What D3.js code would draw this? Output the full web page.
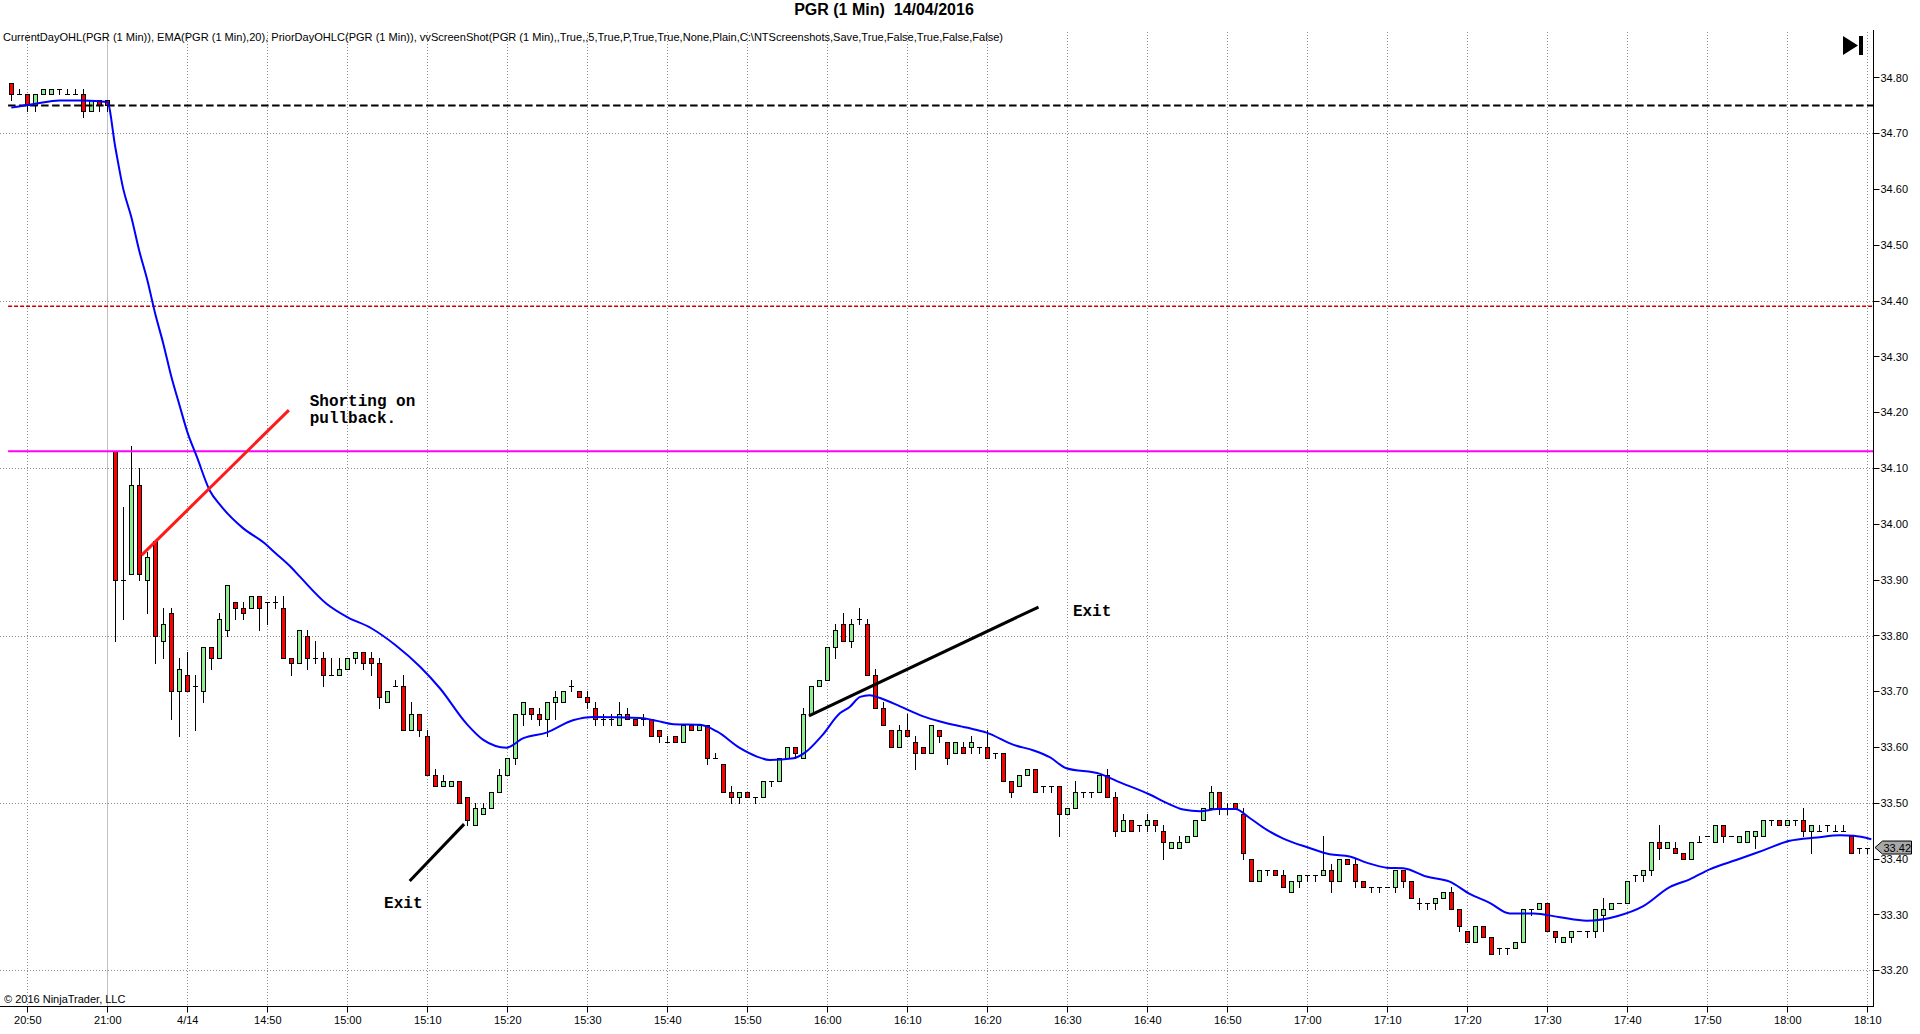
<!DOCTYPE html>
<html lang="en">
<head>
<meta charset="UTF-8">
<title>PGR (1 Min) 14/04/2016</title>
<script src="https://d3js.org/d3.v7.min.js"></script>
<style>
    body { margin: 0; background: #fff; }
    svg { display: block; font-family: "Liberation Sans", Arial, sans-serif; }
    .grid { stroke: #8c8c8c; stroke-width: 1; stroke-dasharray: 1,2; fill: none; }
    .lbl { font-size: 11px; fill: #000; }
    .note { font-family: "Liberation Mono", "Courier New", monospace; font-size: 16px; font-weight: bold; fill: #000; }
</style>
</head>
<body>
<svg id="chart" width="1920" height="1034"></svg>
<script>
// bar slots: 0 = 21:00 of the prior day, 1 = 14:31 ... 220 = 18:10
var firstSlot = -12;

var opens = [
    34.79,34.77,34.77,34.75,34.77,34.77,34.78,34.77,34.77,34.77,
    34.74,34.76,34.76,34.13,33.90,33.91,34.07,33.90,33.97,33.79,
    33.84,33.70,33.73,33.71,33.70,33.78,33.76,33.81,33.86,33.85,
    33.85,33.87,33.86,33.86,33.85,33.76,33.75,33.80,33.76,33.76,
    33.73,33.73,33.74,33.76,33.77,33.76,33.75,33.68,33.71,33.71,
    33.63,33.66,33.62,33.55,33.53,33.53,33.54,33.51,33.46,33.48,
    33.49,33.52,33.55,33.58,33.66,33.67,33.66,33.65,33.68,33.68,
    33.71,33.70,33.69,33.67,33.65,33.65,33.64,33.66,33.65,33.65,
    33.65,33.63,33.61,33.62,33.61,33.64,33.63,33.64,33.58,33.57,
    33.52,33.51,33.52,33.51,33.51,33.54,33.54,33.58,33.60,33.58,
    33.66,33.71,33.72,33.78,33.82,33.79,33.83,33.82,33.73,33.67,
    33.63,33.60,33.63,33.61,33.60,33.59,33.63,33.61,33.59,33.60,
    33.60,33.60,33.60,33.59,33.59,33.54,33.53,33.55,33.56,33.53,
    33.53,33.53,33.48,33.49,33.52,33.52,33.52,33.55,33.51,33.45,
    33.47,33.46,33.46,33.47,33.45,33.42,33.42,33.43,33.44,33.47,
    33.49,33.52,33.49,33.50,33.48,33.40,33.36,33.38,33.38,33.37,
    33.34,33.36,33.37,33.37,33.37,33.38,33.36,33.40,33.39,33.36,
    33.35,33.35,33.35,33.35,33.38,33.36,33.32,33.32,33.32,33.33,
    33.34,33.31,33.27,33.25,33.28,33.26,33.24,33.24,33.24,33.25,
    33.31,33.31,33.32,33.27,33.25,33.26,33.27,33.27,33.27,33.30,
    33.31,33.32,33.32,33.37,33.37,33.38,33.43,33.42,33.42,33.41,
    33.40,33.43,33.44,33.43,33.46,33.44,33.43,33.43,33.44,33.44,
    33.47,33.47,33.46,33.47,33.47,33.45,33.45,33.46,33.45,33.45,
    33.44,33.42,33.42
];
var highs = [
    34.79,34.78,34.77,34.77,34.78,34.78,34.78,34.78,34.78,34.78,
    34.76,34.76,34.76,34.13,34.03,34.14,34.10,33.95,33.97,33.85,
    33.85,33.76,33.77,33.73,33.78,33.78,33.84,33.89,33.86,33.86,
    33.87,33.87,33.86,33.87,33.87,33.76,33.81,33.81,33.79,33.77,
    33.76,33.76,33.76,33.77,33.77,33.77,33.76,33.70,33.72,33.73,
    33.68,33.66,33.63,33.56,33.55,33.54,33.54,33.51,33.50,33.50,
    33.52,33.56,33.58,33.66,33.68,33.67,33.67,33.68,33.70,33.70,
    33.72,33.70,33.70,33.68,33.66,33.66,33.68,33.67,33.65,33.66,
    33.65,33.63,33.62,33.62,33.64,33.64,33.64,33.64,33.59,33.57,
    33.53,33.52,33.52,33.51,33.54,33.54,33.58,33.60,33.60,33.67,
    33.71,33.72,33.78,33.82,33.84,33.83,33.85,33.83,33.74,33.68,
    33.63,33.64,33.66,33.62,33.60,33.64,33.63,33.61,33.61,33.61,
    33.62,33.60,33.63,33.59,33.59,33.54,33.55,33.56,33.56,33.53,
    33.53,33.53,33.49,33.54,33.52,33.52,33.55,33.56,33.52,33.48,
    33.47,33.46,33.48,33.47,33.46,33.43,33.44,33.44,33.47,33.49,
    33.53,33.52,33.50,33.50,33.49,33.40,33.38,33.38,33.38,33.38,
    33.36,33.37,33.37,33.37,33.44,33.39,33.40,33.40,33.40,33.36,
    33.35,33.35,33.35,33.38,33.38,33.36,33.33,33.32,33.33,33.34,
    33.35,33.31,33.27,33.28,33.28,33.26,33.24,33.24,33.25,33.31,
    33.31,33.32,33.32,33.27,33.26,33.27,33.27,33.27,33.31,33.33,
    33.32,33.32,33.36,33.37,33.38,33.43,33.46,33.43,33.43,33.41,
    33.43,33.44,33.44,33.46,33.46,33.44,33.44,33.45,33.45,33.47,
    33.47,33.47,33.47,33.47,33.49,33.46,33.46,33.46,33.46,33.46,
    33.44,33.42,33.42
];
var lows = [
    34.76,34.77,34.74,34.74,34.77,34.77,34.77,34.77,34.77,34.73,
    34.74,34.74,34.74,33.79,33.83,33.91,33.90,33.84,33.75,33.76,
    33.65,33.62,33.70,33.63,33.68,33.74,33.76,33.80,33.83,33.83,
    33.85,33.81,33.82,33.85,33.76,33.73,33.75,33.74,33.75,33.71,
    33.73,33.73,33.74,33.75,33.74,33.73,33.67,33.68,33.71,33.63,
    33.63,33.62,33.55,33.53,33.53,33.53,33.50,33.46,33.46,33.48,
    33.49,33.52,33.55,33.57,33.64,33.65,33.64,33.62,33.65,33.68,
    33.70,33.69,33.67,33.64,33.64,33.64,33.64,33.65,33.64,33.64,
    33.62,33.61,33.61,33.61,33.61,33.63,33.63,33.57,33.58,33.52,
    33.50,33.50,33.51,33.50,33.51,33.53,33.54,33.58,33.58,33.58,
    33.66,33.71,33.72,33.76,33.79,33.78,33.82,33.73,33.67,33.64,
    33.60,33.60,33.62,33.56,33.59,33.59,33.61,33.57,33.59,33.59,
    33.59,33.59,33.58,33.58,33.54,33.51,33.53,33.55,33.52,33.52,
    33.52,33.44,33.48,33.49,33.51,33.51,33.52,33.51,33.44,33.45,
    33.45,33.45,33.45,33.45,33.40,33.42,33.42,33.43,33.44,33.47,
    33.49,33.48,33.48,33.49,33.40,33.36,33.36,33.37,33.37,33.35,
    33.34,33.35,33.36,33.36,33.37,33.34,33.36,33.39,33.35,33.35,
    33.34,33.34,33.35,33.34,33.35,33.33,33.31,33.31,33.31,33.33,
    33.31,33.27,33.25,33.25,33.26,33.23,33.23,33.23,33.24,33.25,
    33.30,33.31,33.27,33.25,33.25,33.25,33.27,33.26,33.26,33.27,
    33.31,33.32,33.32,33.36,33.36,33.37,33.40,33.42,33.41,33.40,
    33.40,33.43,33.44,33.43,33.43,33.44,33.43,33.43,33.42,33.44,
    33.46,33.46,33.46,33.46,33.44,33.41,33.45,33.45,33.45,33.45,
    33.41,33.41,33.41
];
var closes = [
    34.77,34.77,34.75,34.77,34.78,34.78,34.78,34.77,34.77,34.74,
    34.76,34.75,34.75,33.90,33.90,34.07,33.91,33.94,33.80,33.82,
    33.70,33.74,33.70,33.71,33.78,33.76,33.83,33.89,33.85,33.84,
    33.87,33.85,33.86,33.86,33.76,33.75,33.81,33.76,33.76,33.73,
    33.73,33.74,33.76,33.77,33.75,33.75,33.69,33.70,33.71,33.63,
    33.66,33.63,33.55,33.53,33.54,33.54,33.50,33.47,33.49,33.49,
    33.52,33.55,33.58,33.66,33.68,33.66,33.65,33.68,33.69,33.70,
    33.71,33.69,33.68,33.65,33.65,33.65,33.66,33.65,33.64,33.65,
    33.62,33.62,33.61,33.61,33.64,33.63,33.64,33.58,33.58,33.52,
    33.51,33.52,33.51,33.51,33.54,33.54,33.58,33.60,33.59,33.66,
    33.71,33.72,33.78,33.81,33.79,33.82,33.83,33.73,33.67,33.64,
    33.60,33.63,33.62,33.59,33.59,33.64,33.62,33.58,33.61,33.59,
    33.61,33.60,33.58,33.59,33.54,33.52,33.55,33.56,33.52,33.53,
    33.53,33.48,33.49,33.52,33.52,33.52,33.55,33.51,33.45,33.47,
    33.45,33.46,33.47,33.46,33.43,33.43,33.43,33.44,33.47,33.49,
    33.52,33.49,33.49,33.49,33.41,33.36,33.38,33.38,33.37,33.35,
    33.36,33.37,33.37,33.37,33.38,33.36,33.40,33.39,33.36,33.35,
    33.35,33.35,33.35,33.38,33.36,33.33,33.32,33.32,33.33,33.34,
    33.31,33.28,33.25,33.28,33.26,33.23,33.24,33.24,33.25,33.31,
    33.31,33.32,33.27,33.26,33.26,33.27,33.27,33.27,33.31,33.31,
    33.32,33.32,33.36,33.37,33.38,33.43,33.42,33.43,33.41,33.40,
    33.43,33.43,33.44,33.46,33.44,33.44,33.44,33.45,33.45,33.47,
    33.47,33.46,33.47,33.47,33.45,33.46,33.45,33.46,33.45,33.45,
    33.41,33.42,33.42
];

// EMA(20): slot, price
var emaSlots = [-12,-9,-6,-3,0,1,2,3,4,5,6,7,8,9,10,11.2,12.8,14.1,17,19.5,21,23,24.1,27.4,30,33,36,39.1,41.6,44.9,47,49.9,52,54.9,58.2,60.8,66.6,68.7,70.8,74.1,76.2,79.1,81.2,82.8,85.8,87.2,89.3,91.6,92.8,94.1,95.3,96.6,99.1,102,104.1,107.4,109.9,113.3,115.8,117.8,119.9,124.1,126.2,130.3,132.4,134.5,136.6,138.7,141,142.8,144.9,147,150.1,152.8,155.3,157.4,159.9,162,164.9,167.8,170.3,172.8,175.3,178.3,181.6,184.9,188.7,192,195.3,197.8,200.3,203.7,207,210.3,213.7,216.6,218.3,220.5];
var emaValues = [34.746,34.753,34.759,34.759,34.756,34.675,34.600,34.550,34.489,34.437,34.376,34.323,34.264,34.214,34.165,34.120,34.060,34.034,33.992,33.967,33.948,33.922,33.905,33.857,33.833,33.813,33.783,33.744,33.705,33.642,33.613,33.599,33.616,33.626,33.648,33.654,33.652,33.647,33.641,33.640,33.628,33.598,33.583,33.577,33.580,33.590,33.620,33.661,33.672,33.690,33.693,33.688,33.673,33.655,33.646,33.635,33.626,33.604,33.594,33.582,33.562,33.552,33.539,33.515,33.500,33.488,33.485,33.489,33.489,33.473,33.452,33.436,33.420,33.408,33.404,33.393,33.384,33.383,33.368,33.359,33.337,33.321,33.302,33.302,33.295,33.289,33.297,33.315,33.349,33.363,33.381,33.398,33.415,33.432,33.438,33.442,33.441,33.435];

// price levels
var priorDayClose = 34.75;
var priorDayLow = 34.39;
var currentOpen = 34.13;
var lastPrice = 33.42;

// axes
var xTickSlots = [-10,0,10,20,30,40,50,60,70,80,90,100,110,120,130,140,150,160,170,180,190,200,210,220];
var xTickLabels = ["20:50","21:00","4/14","14:50","15:00","15:10","15:20","15:30","15:40","15:50","16:00","16:10","16:20","16:30","16:40","16:50","17:00","17:10","17:20","17:30","17:40","17:50","18:00","18:10"];
var sessionBreakSlot = 0;
var yTicks = d3.range(33.2, 34.8001, 0.1);
var yGrid = [33.2, 33.5, 33.8, 34.1, 34.4, 34.7];

// drawn objects: [slot, price]
var shortLine = [[4.3, 33.944], [22.7, 34.204]];
var exitLine1 = [[37.8, 33.360], [44.6, 33.462]];
var exitLine2 = [[87.7, 33.656], [116.4, 33.851]];
var noteShort = { slot: 25.3, price: 34.211, lines: ["Shorting on", "pullback."] };
var noteExit1 = { slot: 34.6, price: 33.312, lines: ["Exit"] };
var noteExit2 = { slot: 120.7, price: 33.835, lines: ["Exit"] };

var titleText = "PGR (1 Min)  14/04/2016";
var indicatorText = "CurrentDayOHL(PGR (1 Min)), EMA(PGR (1 Min),20), PriorDayOHLC(PGR (1 Min)), vvScreenShot(PGR (1 Min),,True,,5,True,P,True,True,None,Plain,C:\\NTScreenshots,Save,True,False,True,False,False)";
var copyrightText = "\u00a9 2016 NinjaTrader, LLC";

var axisX = 1873.5, axisY = 1006.5, plotTop = 32;

var x = d3.scaleLinear().domain([0, 220]).range([107.3, 1867.3]);
var y = d3.scaleLinear().domain([33.2, 34.8]).range([970.3, 77.5]);

var svg = d3.select("#chart");

// grid
svg.append("g").selectAll("line")
    .data(yGrid).enter().append("line")
    .attr("class", "grid")
    .attr("x1", 0).attr("x2", axisX)
    .attr("y1", function(d) { return Math.round(y(d)) + 0.5; })
    .attr("y2", function(d) { return Math.round(y(d)) + 0.5; });

svg.append("g").selectAll("line")
    .data(xTickSlots.filter(function(s) { return s !== sessionBreakSlot; }))
    .enter().append("line")
    .attr("class", "grid")
    .attr("x1", function(d) { return Math.round(x(d)) + 0.5; })
    .attr("x2", function(d) { return Math.round(x(d)) + 0.5; })
    .attr("y1", plotTop).attr("y2", axisY);

svg.append("line")
    .attr("x1", Math.round(x(sessionBreakSlot)) + 0.5)
    .attr("x2", Math.round(x(sessionBreakSlot)) + 0.5)
    .attr("y1", plotTop).attr("y2", axisY)
    .attr("stroke", "#c0c0c0").attr("stroke-width", 1);

// candles
var bars = opens.map(function(o, i) {
    return { slot: firstSlot + i, o: o, h: highs[i], l: lows[i], c: closes[i] };
});

var candles = svg.append("g").selectAll("g")
    .data(bars).enter().append("g");

candles.append("line")
    .attr("x1", function(d) { return Math.round(x(d.slot)) + 0.5; })
    .attr("x2", function(d) { return Math.round(x(d.slot)) + 0.5; })
    .attr("y1", function(d) { return Math.round(y(d.h)); })
    .attr("y2", function(d) { return Math.round(y(d.l)) + 1; })
    .attr("stroke", "#000").attr("stroke-width", 1);

candles.filter(function(d) { return d.o !== d.c; })
    .append("rect")
    .attr("x", function(d) { return Math.round(x(d.slot)) - 1.5; })
    .attr("y", function(d) { return Math.round(y(Math.max(d.o, d.c))) + 0.5; })
    .attr("width", 4)
    .attr("height", function(d) { return Math.max(1, Math.round(y(Math.min(d.o, d.c))) - Math.round(y(Math.max(d.o, d.c)))); })
    .attr("fill", function(d) { return d.c > d.o ? "#90ee90" : "#ff0000"; })
    .attr("stroke", "#000").attr("stroke-width", 1);

candles.filter(function(d) { return d.o === d.c; })
    .append("line")
    .attr("x1", function(d) { return Math.round(x(d.slot)) - 2; })
    .attr("x2", function(d) { return Math.round(x(d.slot)) + 3; })
    .attr("y1", function(d) { return Math.round(y(d.c)) + 0.5; })
    .attr("y2", function(d) { return Math.round(y(d.c)) + 0.5; })
    .attr("stroke", "#000").attr("stroke-width", 1);

// price levels
var levelLeft = x(firstSlot - 0.4);
svg.append("line")
    .attr("x1", levelLeft).attr("x2", axisX)
    .attr("y1", y(priorDayLow)).attr("y2", y(priorDayLow))
    .attr("stroke", "#c80000").attr("stroke-width", 1.5).attr("stroke-dasharray", "4,2");
svg.append("line")
    .attr("x1", levelLeft).attr("x2", axisX)
    .attr("y1", y(currentOpen)).attr("y2", y(currentOpen))
    .attr("stroke", "#ff00ff").attr("stroke-width", 2);
svg.append("line")
    .attr("x1", levelLeft).attr("x2", axisX)
    .attr("y1", y(priorDayClose)).attr("y2", y(priorDayClose))
    .attr("stroke", "#000").attr("stroke-width", 2).attr("stroke-dasharray", "7.5,3.5");

// EMA
var emaLine = d3.line()
    .x(function(d) { return x(d[0]); })
    .y(function(d) { return y(d[1]); })
    .curve(d3.curveMonotoneX);
svg.append("path")
    .datum(emaSlots.map(function(s, i) { return [s, emaValues[i]]; }))
    .attr("d", emaLine)
    .attr("fill", "none").attr("stroke", "#0000ff").attr("stroke-width", 2);

// drawn objects
function drawSegment(seg, colour) {
    svg.append("line")
        .attr("x1", x(seg[0][0])).attr("y1", y(seg[0][1]))
        .attr("x2", x(seg[1][0])).attr("y2", y(seg[1][1]))
        .attr("stroke", colour).attr("stroke-width", 3);
}
drawSegment(shortLine, "#ff1a1a");
drawSegment(exitLine1, "#000");
drawSegment(exitLine2, "#000");

[noteShort, noteExit1, noteExit2].forEach(function(n) {
    var t = svg.append("text").attr("class", "note")
        .attr("x", x(n.slot)).attr("y", y(n.price))
        .style("white-space", "pre");
    n.lines.forEach(function(line, i) {
        t.append("tspan").attr("x", x(n.slot)).attr("dy", i === 0 ? 0 : 17).text(line);
    });
});

// axes
svg.append("line")
    .attr("x1", axisX).attr("x2", axisX).attr("y1", 30).attr("y2", axisY + 0.5)
    .attr("stroke", "#000").attr("stroke-width", 1);
svg.append("line")
    .attr("x1", 0).attr("x2", axisX + 0.5).attr("y1", axisY).attr("y2", axisY)
    .attr("stroke", "#000").attr("stroke-width", 1);

var yt = svg.append("g").selectAll("g").data(yTicks).enter().append("g");
yt.append("line")
    .attr("x1", axisX).attr("x2", axisX + 6)
    .attr("y1", function(d) { return Math.round(y(d)) + 0.5; })
    .attr("y2", function(d) { return Math.round(y(d)) + 0.5; })
    .attr("stroke", "#000");
yt.append("text").attr("class", "lbl")
    .attr("x", axisX + 7).attr("y", function(d) { return y(d) + 4; })
    .text(function(d) { return d.toFixed(2); });

var xt = svg.append("g").selectAll("g").data(xTickSlots).enter().append("g");
xt.append("line")
    .attr("x1", function(d) { return Math.round(x(d)) + 0.5; })
    .attr("x2", function(d) { return Math.round(x(d)) + 0.5; })
    .attr("y1", axisY).attr("y2", axisY + 6)
    .attr("stroke", "#000");
xt.append("text").attr("class", "lbl")
    .attr("x", function(d) { return x(d) + 0.5; }).attr("y", 1024)
    .attr("text-anchor", "middle")
    .text(function(d, i) { return xTickLabels[i]; });

// last price marker
var py = y(lastPrice);
svg.append("path")
    .attr("d", d3.line()([[axisX + 1.5, py], [axisX + 9, py - 6.5], [1911.5, py - 6.5], [1911.5, py + 6.5], [axisX + 9, py + 6.5]]) + "Z")
    .attr("fill", "#a8a8a8").attr("stroke", "#000").attr("stroke-width", 1);
svg.append("text").attr("class", "lbl")
    .attr("x", axisX + 10).attr("y", py + 4)
    .text(lastPrice.toFixed(2));

// texts
svg.append("text")
    .attr("x", 884).attr("y", 15)
    .attr("text-anchor", "middle")
    .attr("font-size", 16).attr("font-weight", "bold")
    .style("white-space", "pre")
    .text(titleText);
svg.append("text").attr("class", "lbl")
    .attr("x", 3).attr("y", 41)
    .attr("textLength", 1000).attr("lengthAdjust", "spacingAndGlyphs")
    .text(indicatorText);
svg.append("text").attr("class", "lbl")
    .attr("x", 4).attr("y", 1003)
    .text(copyrightText);

// go-to-end button
svg.append("path")
    .attr("d", "M1843,36L1858,45.5L1843,55Z")
    .attr("fill", "#000");
svg.append("rect")
    .attr("x", 1859).attr("y", 36).attr("width", 4).attr("height", 19)
    .attr("fill", "#000");
</script>
</body>
</html>
